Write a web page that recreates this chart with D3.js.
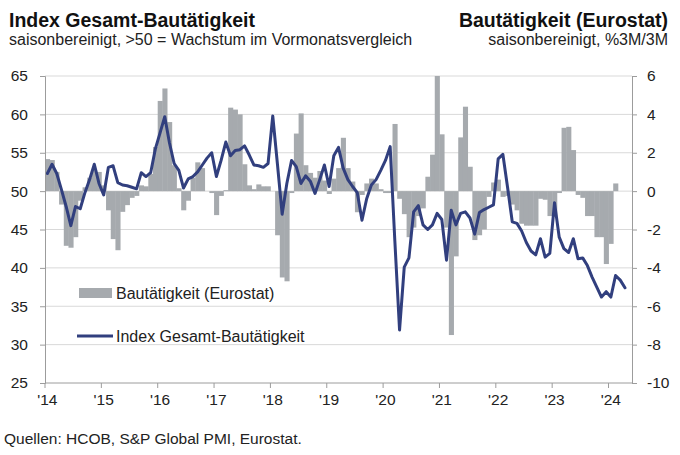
<!DOCTYPE html>
<html><head><meta charset="utf-8">
<script src="https://cdn.jsdelivr.net/npm/d3@7"></script>
<style>
body{margin:0;background:#fff}
svg{display:block}
text{font-family:"Liberation Sans",Arial,Helvetica,sans-serif}
</style>
</head><body>
<svg id="chart" width="680" height="455"></svg>
<script>
// Index Gesamt-Bautätigkeit (left axis), Jan 2014 – Apr 2024, monthly
const indexValues = [
 52.3,53.5,52.3,50.2,48.0,45.5,48.0,47.7,49.8,51.5,53.5,51.0,
 49.5,53.1,53.3,51.1,50.8,50.7,50.5,50.3,52.4,51.9,52.4,55.5,
 57.6,59.7,56.3,53.6,52.7,50.4,51.6,51.9,52.5,53.4,54.3,55.0,
 51.9,54.0,56.4,54.6,55.3,55.4,55.9,54.7,53.4,53.3,53.1,53.6,
 59.8,53.5,47.0,51.0,54.0,53.2,51.0,52.0,51.3,49.7,51.5,53.4,
 50.6,54.6,55.7,53.0,51.5,50.6,49.8,46.2,49.0,50.8,51.5,52.7,
 54.0,55.8,43.5,31.9,40.1,41.3,47.3,48.1,45.6,45.0,45.6,47.1,
 46.3,41.0,47.5,45.6,47.1,47.3,46.5,44.4,47.2,47.6,47.9,48.2,
 54.2,54.8,50.5,46.0,45.8,44.8,43.3,42.2,41.7,43.8,41.4,41.9,
 48.5,44.0,42.5,42.0,43.8,41.2,41.3,40.3,38.8,37.5,36.2,36.9,
 36.2,39.0,38.4,37.4
];
// Bautätigkeit (Eurostat), %3M/3M (right axis), Jan 2014 – Feb 2024
const eurostatValues = [
 1.67,1.62,1.0,-0.7,-2.85,-2.95,-2.4,-0.5,0.2,0.7,1.1,1.0,
 0.3,-1.0,-2.5,-3.08,-1.08,-0.73,-0.35,-0.25,0.3,0.25,0.9,2.3,
 4.7,5.35,3.6,1.35,0.15,-1.0,-0.5,0.7,1.5,1.2,0.0,-0.1,
 -1.25,-0.25,0.05,4.35,4.25,4.0,1.4,0.3,0.1,0.35,0.25,0.25,
 0.0,-2.3,-4.5,-4.7,-0.1,3.0,4.05,1.35,0.95,0.7,1.05,0.55,
 -0.15,0.65,1.2,2.78,1.2,0.5,-1.1,-0.2,0.4,0.65,0.4,0.1,
 -0.1,-0.1,3.5,-0.4,-1.2,-2.4,-1.9,-1.3,-0.9,0.75,1.9,6.0,
 2.96,-1.9,-7.5,-3.4,2.8,4.4,1.27,-2.55,-2.3,-2.0,-0.3,0.45,
 0.6,-0.3,-0.25,-0.7,-1.0,-1.7,-1.8,-1.8,-1.8,-0.4,-0.45,-1.3,
 -1.35,-0.1,3.3,3.35,2.14,-0.2,-0.35,-1.3,-1.3,-2.4,-2.4,-3.8,
 -2.75,0.4
];
const yearLabels = ["'14","'15","'16","'17","'18","'19","'20","'21","'22","'23","'24"];
const leftTicks = [25,30,35,40,45,50,55,60,65];
const rightTicks = [-10,-8,-6,-4,-2,0,2,4,6];
// category axis: months Jan 2014 .. May 2024
const months = d3.timeMonths(new Date(2014,0,1), new Date(2024,5,1));

const svg = d3.select("#chart");
const pLeft = 45, pRight = 632, pTop = 76, pBottom = 383;

const x = d3.scaleBand().domain(d3.range(months.length)).range([pLeft, pRight]).padding(0);
const yL = d3.scaleLinear().domain([25, 65]).range([pBottom, pTop]);
const yR = d3.scaleLinear().domain([-10, 6]).range([pBottom, pTop]);
const bw = x.bandwidth();

// gridlines
svg.append("g").selectAll("line").data(leftTicks.filter(t => t > 25)).join("line")
  .attr("x1", pLeft).attr("x2", pRight)
  .attr("y1", d => yL(d)).attr("y2", d => yL(d))
  .attr("stroke", "#d9d9d9").attr("stroke-width", 1);

// bars
svg.append("g").selectAll("rect").data(eurostatValues).join("rect")
  .attr("x", (d, i) => x(i))
  .attr("width", bw + 0.4)
  .attr("y", d => Math.min(yR(d), yR(0)))
  .attr("height", d => Math.abs(yR(d) - yR(0)))
  .attr("fill", "#a6aaae");

// line
const line = d3.line().x((d, i) => x(i) + bw / 2).y(d => yL(d));
svg.append("path").datum(indexValues)
  .attr("d", line).attr("fill", "none")
  .attr("stroke", "#313f7e").attr("stroke-width", 3)
  .attr("stroke-linejoin", "round").attr("stroke-linecap", "round");

const axisColor = "#9c9c9c", textColor = "#222";
const fmt = d => String(d);

const gL = svg.append("g").attr("transform", `translate(${pLeft},0)`)
  .call(d3.axisLeft(yL).tickValues(leftTicks).tickFormat(fmt).tickSize(5).tickPadding(12));
const gR = svg.append("g").attr("transform", `translate(${pRight},0)`)
  .call(d3.axisRight(yR).tickValues(rightTicks).tickFormat(fmt).tickSize(5).tickPadding(10));
const janIdx = d3.range(0, 121, 12);
const gB = svg.append("g").attr("transform", `translate(0,${pBottom})`)
  .call(d3.axisBottom(x).tickValues(janIdx).tickFormat((d, i) => yearLabels[i]).tickSize(0).tickPadding(11));
svg.append("g").selectAll("line").data(janIdx).join("line")
  .attr("x1", d => x(d)).attr("x2", d => x(d))
  .attr("y1", pBottom).attr("y2", pBottom + 5)
  .attr("stroke", axisColor);

[gL, gR, gB].forEach(g => {
  g.select(".domain").attr("stroke", axisColor);
  g.selectAll(".tick line").attr("stroke", axisColor);
  g.selectAll("text").attr("fill", textColor).style("font-size", "15.5px")
    .style("font-family", '"Liberation Sans",Arial,sans-serif');
});
gB.select(".domain").attr("d", `M${pLeft},0H${pRight}`);

// titles
svg.append("text").attr("x", 9).attr("y", 27).text("Index Gesamt-Bautätigkeit")
  .style("font-size", "19.5px").style("font-weight", "bold").attr("fill", "#111");
svg.append("text").attr("x", 9).attr("y", 45).text("saisonbereinigt, >50 = Wachstum im Vormonatsvergleich")
  .style("font-size", "16px").attr("fill", "#222");
svg.append("text").attr("x", 668).attr("y", 27).attr("text-anchor", "end").text("Bautätigkeit (Eurostat)")
  .style("font-size", "19.5px").style("font-weight", "bold").attr("fill", "#111");
svg.append("text").attr("x", 668).attr("y", 45).attr("text-anchor", "end").text("saisonbereinigt, %3M/3M")
  .style("font-size", "16px").attr("fill", "#222");

// legend
svg.append("rect").attr("x", 79).attr("y", 288).attr("width", 33).attr("height", 10).attr("fill", "#a6aaae");
svg.append("text").attr("x", 116).attr("y", 299).text("Bautätigkeit (Eurostat)")
  .style("font-size", "16px").attr("fill", textColor);
svg.append("line").attr("x1", 77).attr("x2", 113).attr("y1", 336).attr("y2", 336)
  .attr("stroke", "#313f7e").attr("stroke-width", 3);
svg.append("text").attr("x", 116).attr("y", 342).text("Index Gesamt-Bautätigkeit")
  .style("font-size", "16px").attr("fill", textColor);

// source
svg.append("text").attr("x", 4).attr("y", 444).text("Quellen: HCOB, S&P Global PMI, Eurostat.")
  .style("font-size", "15.5px").attr("fill", textColor);
</script>
</body></html>
